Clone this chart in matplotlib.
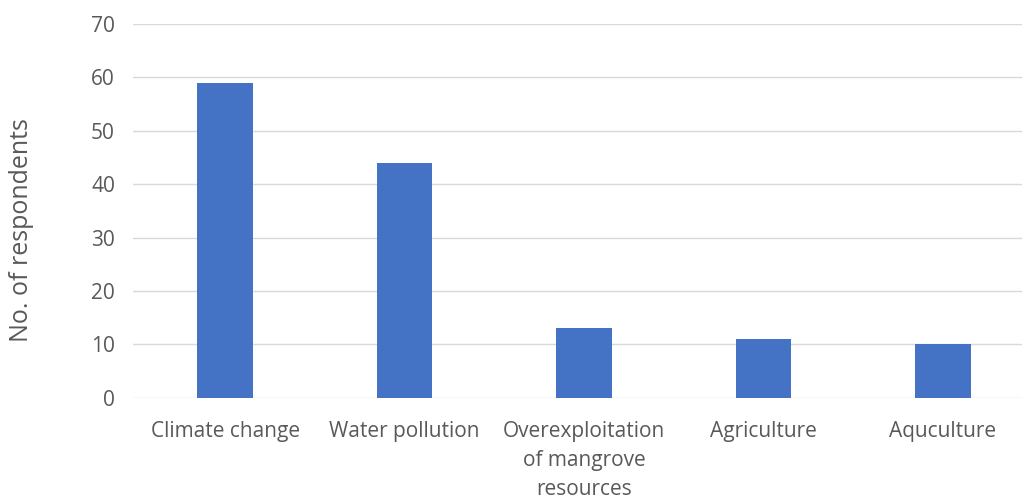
import matplotlib
matplotlib.use("Agg")
import matplotlib.pyplot as plt

categories = ["Climate change", "Water pollution", "Overexploitation\nof mangrove\nresources", "Agriculture", "Aquculture"]
values = [59, 44, 13, 11, 10]
yticks = [0, 10, 20, 30, 40, 50, 60, 70]

plt.rcParams['font.family'] = ['Open Sans', 'DejaVu Sans']
txt = '#595959'

fig = plt.figure(figsize=(10.24, 5.0), dpi=100)
ax = fig.add_axes([133/1024, (500-397.7)/500, (1022-133)/1024, (397.7-24)/500])
x = list(range(len(categories)))
ax.bar(x, values, width=0.31, color='#4472C4', zorder=3)
ax.set_xlim(-0.513, 4.44)
ax.set_ylim(0, 70)
ax.set_yticks(yticks)
ax.set_yticklabels([str(t) for t in yticks], fontsize=15, color=txt)
ax.set_xticks(x)
ax.set_xticklabels(categories, fontsize=15, color=txt, linespacing=1.5, va='top')
ax.tick_params(axis='both', length=0)
ax.tick_params(axis='y', pad=13)
ax.tick_params(axis='x', pad=17)
ax.grid(axis='y', color='#D9D9D9', linewidth=1, zorder=0)
for s in ax.spines.values():
    s.set_visible(False)
ax.set_ylabel("No. of respondents", fontsize=18, color=txt)
ax.yaxis.set_label_coords(-0.111, 0.449)
fig.savefig("out.png", dpi=100)
